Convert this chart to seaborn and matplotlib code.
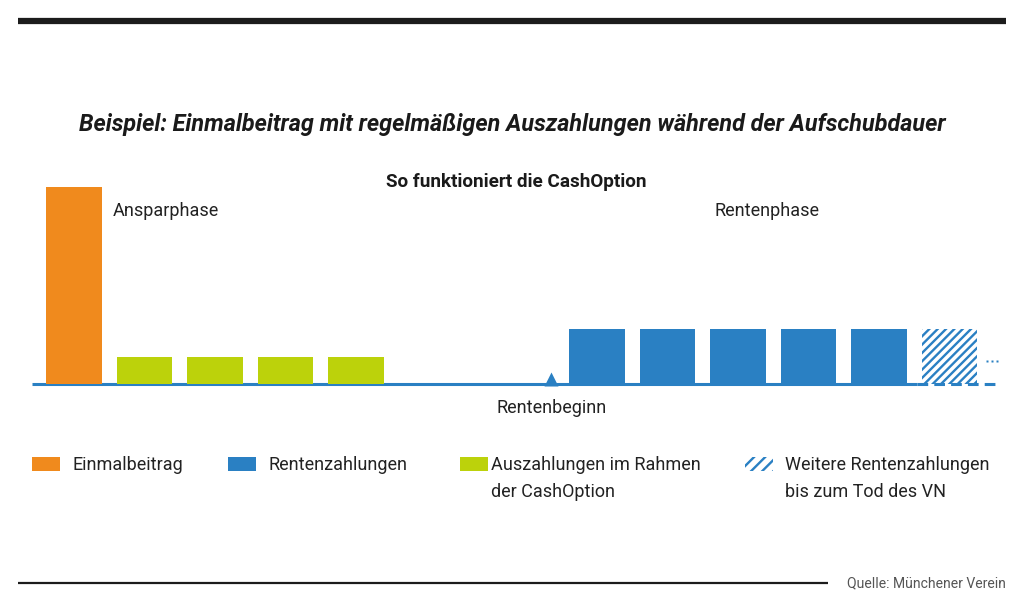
import matplotlib
matplotlib.use("Agg")
import matplotlib.pyplot as plt
from matplotlib.patches import Rectangle
from matplotlib.lines import Line2D
import seaborn as sns
import pandas as pd

sns.set_theme(style="white")
plt.rcParams['font.family'] = ['Roboto', 'DejaVu Sans']
plt.rcParams['hatch.linewidth'] = 1.7

# ---- data ----
categories = ["Einmalbeitrag", "Auszahlungen im Rahmen der CashOption",
              "Rentenzahlungen", "Weitere Rentenzahlungen bis zum Tod des VN"]
bar_pos = [0, 1, 2, 3, 4, 7.42, 8.42, 9.42, 10.42, 11.42, 12.42]
bar_val = [197, 27, 27, 27, 27, 55, 55, 55, 55, 55, 55]
bar_cat = [categories[0]] + [categories[1]] * 4 + [categories[2]] * 5 + [categories[3]]
rentenbeginn_pos = 6.77
legend_lines = [["Einmalbeitrag"], ["Rentenzahlungen"],
                ["Auszahlungen im Rahmen", "der CashOption"],
                ["Weitere Rentenzahlungen", "bis zum Tod des VN"]]

ORANGE = "#F08A1D"
BLUE = "#2A80C3"
GREEN = "#BCD20B"
colors = {categories[0]: ORANGE, categories[1]: GREEN,
          categories[2]: BLUE, categories[3]: "white"}

df = pd.DataFrame({"pos": bar_pos, "val": bar_val, "cat": bar_cat})

W, H = 1024, 611
fig = plt.figure(figsize=(W / 100, H / 100), dpi=100)
fig.patch.set_facecolor("white")

def fx(px):
    return px / W

def fy(py):
    return 1 - py / H

# main axes: pixel x 32..1000, pixel y 180..400
ax = fig.add_axes([fx(32), fy(400), (1000 - 32) / W, 220 / H])
sns.barplot(data=df, x="pos", y="val", hue="cat", palette=colors,
            native_scale=True, width=0.79, dodge=False, legend=False,
            ax=ax, linewidth=0, saturation=1)
for p in ax.patches:
    x0 = p.get_x() + p.get_width() / 2
    if abs(x0 - bar_pos[-1]) < 0.05:
        p.set_facecolor("white")
        p.set_edgecolor(BLUE)
        p.set_hatch("////")
        p.set_linewidth(0)

ax.set_xlim((32 - 74) / 70.5, (1000 - 74) / 70.5)
ax.set_ylim(-16, 204)
ax.axis("off")

def dx(px):
    return (px - 74) / 70.5

# baseline
ax.plot([dx(32), dx(917)], [0, 0], color=BLUE, lw=2.2,
        solid_capstyle="butt", zorder=0.5)
ax.plot([dx(917), dx(998)], [0, 0], color=BLUE, lw=2.2,
        dashes=(3.5, 2), dash_capstyle="butt", zorder=3)
ax.plot([dx(987), dx(992), dx(997)], [23, 23, 23],
        ls="none", marker="s", ms=1.6, color=BLUE, mec="none")
# Rentenbeginn marker
ax.plot([rentenbeginn_pos], [5.5], marker="^", ms=10, color=BLUE, mec="none")

# top rule and bottom rule
fig.add_artist(Line2D([fx(18), fx(1006)], [fy(20.5), fy(20.5)], color="#1c1c1c",
                      lw=4.5, solid_capstyle="butt"))
fig.add_artist(Line2D([fx(18), fx(828)], [fy(583), fy(583)], color="#1c1c1c",
                      lw=1.6, solid_capstyle="butt"))

# texts
fig.text(fx(512), fy(124), "Beispiel: Einmalbeitrag mit regelmäßigen Auszahlungen während der Aufschubdauer",
         ha="center", va="center", fontsize=16.8, fontweight="bold", style="italic", color="#1a1a1a")
fig.text(fx(516), fy(182), "So funktioniert die CashOption", ha="center", va="center",
         fontsize=13.6, fontweight="bold", color="#1a1a1a")
fig.text(fx(113), fy(211), "Ansparphase", ha="left", va="center", fontsize=13, color="#222222")
fig.text(fx(715), fy(211), "Rentenphase", ha="left", va="center", fontsize=13, color="#222222")
fig.text(fx(552), fy(408), "Rentenbeginn", ha="center", va="center", fontsize=13, color="#222222")

# legend
leg_sq_x = [32, 228, 460, 745]
leg_txt_x = [72, 268, 491, 785]
leg_face = [ORANGE, BLUE, GREEN, "white"]
for i in range(4):
    r = Rectangle((fx(leg_sq_x[i]), fy(471)), 28 / W, 14 / H, transform=fig.transFigure,
                  facecolor=leg_face[i], edgecolor=BLUE if i == 3 else "none",
                  lw=0, hatch="///" if i == 3 else None)
    fig.add_artist(r)
    for j, line in enumerate(legend_lines[i]):
        fig.text(fx(leg_txt_x[i]), fy(465 + 27 * j), line, ha="left", va="center",
                 fontsize=13, color="#222222")

fig.text(fx(1006), fy(583), "Quelle: Münchener Verein", ha="right", va="center",
         fontsize=10.1, color="#555555")

fig.savefig("out.png", dpi=100, facecolor="white")
